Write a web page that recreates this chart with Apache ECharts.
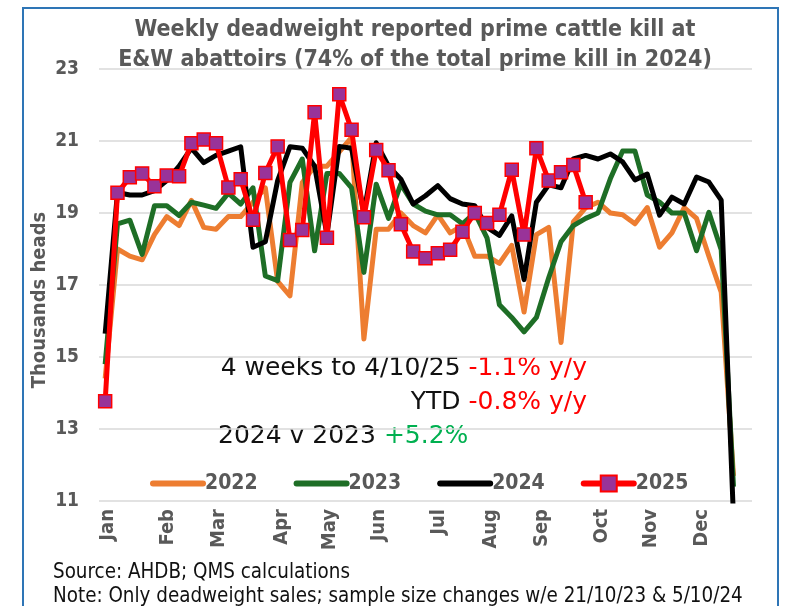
<!DOCTYPE html>
<html>
<head>
<meta charset="utf-8">
<script src="https://cdn.jsdelivr.net/npm/echarts@6/dist/echarts.min.js"></script>
<style>
  html, body { margin: 0; padding: 0; background: #fff; }
  #chart { width: 787px; height: 606px; }
</style>
</head>
<body>
<div id="chart"></div>
<script>
const weeks = [1, 2, 3, 4, 5, 6, 7, 8, 9, 10, 11, 12, 13, 14, 15, 16, 17, 18, 19, 20,
  21, 22, 23, 24, 25, 26, 27, 28, 29, 30, 31, 32, 33, 34, 35, 36, 37, 38, 39, 40,
  41, 42, 43, 44, 45, 46, 47, 48, 49, 50, 51, 52, 53];
const monthLabels = ["Jan", "Feb", "Mar", "Apr", "May", "Jun", "Jul", "Aug", "Sep", "Oct", "Nov", "Dec"];
// where each month label sits, in weeks from the first week
const monthPositions = [0.2, 5.1, 9.2, 14.3, 18.2, 22.2, 27.1, 31.3, 35.4, 40.3, 44.3, 48.4];

const kill2022 = [14.4, 18.0, 17.8, 17.7, 18.4, 18.9, 18.65, 19.35, 18.6, 18.55,
  18.9, 18.9, 19.3, 19.7, 17.1, 16.7, 19.85, 20.3, 20.3, 20.7,
  21.1, 15.5, 18.55, 18.55, 19.0, 18.65, 18.45, 18.95, 18.45, 18.65,
  17.8, 17.8, 17.6, 18.1, 16.25, 18.4, 18.6, 15.4, 18.75, 19.15,
  19.3, 19.0, 18.95, 18.7, 19.15, 18.05, 18.45, 19.15, 18.85, 17.8,
  16.8, 11.7];
const kill2023 = [14.8, 18.7, 18.8, 17.85, 19.2, 19.2, 18.93, 19.3, 19.22, 19.13,
  19.55, 19.25, 19.7, 17.25, 17.12, 19.85, 20.5, 17.95, 20.1, 20.1,
  19.7, 17.35, 19.8, 18.85, 19.8, 19.25, 19.05, 18.95, 18.95, 18.7,
  19.0, 18.3, 16.45, 16.1, 15.7, 16.1, 17.2, 18.2, 18.65, 18.85,
  19.0, 19.95, 20.72, 20.72, 19.5, 19.3, 19.0, 19.0, 17.95, 19.02,
  17.98, 11.4];
const kill2024 = [15.65, 19.57, 19.5, 19.5, 19.62, 19.9, 20.3, 20.8, 20.4, 20.6,
  20.72, 20.84, 18.05, 18.2, 19.9, 20.84, 20.8, 20.3, 18.4, 20.85,
  20.8, 19.0, 20.95, 20.3, 19.94, 19.25, 19.48, 19.76, 19.4, 19.25,
  19.2, 18.6, 18.38, 18.92, 17.15, 19.3, 19.78, 19.7, 20.5, 20.6,
  20.5, 20.64, 20.42, 19.92, 20.08, 18.94, 19.44, 19.25, 20.0, 19.86,
  19.36, 10.5];
const kill2025 = [13.77, 19.56, 19.99, 20.1, 19.74, 20.04, 20.02, 20.94, 21.04, 20.94,
  19.71, 19.94, 18.81, 20.11, 20.85, 18.25, 18.53, 21.8, 18.31, 22.3,
  21.31, 18.88, 20.75, 20.19, 18.69, 17.93, 17.74, 17.88, 17.98, 18.48,
  19.0, 18.72, 18.95, 20.2, 18.4, 20.8, 19.9, 20.13, 20.33, 19.3];

const grey = "#595959";
const narrow = "'Liberation Sans Narrow', 'DejaVu Sans Condensed', sans-serif";
const plain = "'DejaVu Sans', 'Open Sans', sans-serif";

const chart = echarts.init(document.getElementById("chart"));

function lineSeries(name, data, color, z) {
  return {
    name, type: "line", data, z,
    symbol: "none",
    lineStyle: { color, width: 5, join: "round" },
    itemStyle: { color }
  };
}

const richText = (color) => ({
  a: { fontFamily: plain, fontSize: 25, fill: "#111" },
  b: { fontFamily: plain, fontSize: 25, fill: color }
});

chart.setOption({
  animation: false,
  title: {
    text: "Weekly deadweight reported prime cattle kill at\nE&W abattoirs (74% of the total prime kill in 2024)",
    left: 410, top: 10, textAlign: "center",
    textStyle: { fontFamily: narrow, fontSize: 23, fontWeight: "bold", color: grey, lineHeight: 30 }
  },
  grid: { left: 99, right: 35, top: 69, bottom: 105 },
  legend: {
    top: 468, left: 145,
    itemWidth: 50, itemHeight: 20, itemGap: 36,
    lineStyle: { width: 6, cap: "round" },
    textStyle: { fontFamily: narrow, fontSize: 21, fontWeight: "bold", color: grey, padding: [0, 0, 0, -3] },
    data: [
      { name: "2022", itemStyle: { opacity: 0 } },
      { name: "2023", itemStyle: { opacity: 0 } },
      { name: "2024", itemStyle: { opacity: 0 } },
      { name: "2025" }
    ]
  },
  xAxis: [
    {
      type: "category",
      data: weeks,
      boundaryGap: true,
      axisLine: { show: false },
      axisTick: { show: false },
      axisLabel: { show: false }
    },
    {
      type: "value",
      position: "bottom",
      min: -0.5, max: 52.5,
      axisLine: { show: false },
      axisTick: { show: false },
      splitLine: { show: false },
      axisLabel: {
        customValues: monthPositions,
        rotate: 90, margin: 8,
        fontFamily: narrow, fontSize: 20, fontWeight: "bold", color: grey,
        formatter: (value) => {
          const m = monthPositions.indexOf(value);
          return m >= 0 ? monthLabels[m] : "";
        }
      }
    }
  ],
  yAxis: {
    type: "value",
    min: 11, max: 23, interval: 2,
    axisLine: { show: false },
    axisTick: { show: false },
    axisLabel: { fontFamily: narrow, fontSize: 19, fontWeight: "bold", color: grey, margin: 20 },
    splitLine: { lineStyle: { color: "#d9d9d9", width: 1.5 } }
  },
  graphic: [
    {
      type: "rect", silent: true, z: 100,
      shape: { x: 23, y: 8, width: 755, height: 620 },
      style: { fill: "none", stroke: "#2e75b6", lineWidth: 2 }
    },
    {
      type: "text", x: 40, y: 300, rotation: Math.PI / 2,
      style: { text: "Thousands heads", font: "bold 20px " + narrow, fill: grey, align: "center", verticalAlign: "middle" }
    },
    {
      type: "text", x: 587, y: 368,
      style: { text: "{a|4 weeks to 4/10/25 }{b|-1.1% y/y}", align: "right", verticalAlign: "middle", rich: richText("#ff0000") }
    },
    {
      type: "text", x: 587, y: 402,
      style: { text: "{a|YTD }{b|-0.8% y/y}", align: "right", verticalAlign: "middle", rich: richText("#ff0000") }
    },
    {
      type: "text", x: 218, y: 436,
      style: { text: "{a|2024 v 2023 }{b|+5.2%}", align: "left", verticalAlign: "middle", rich: richText("#00b050") }
    },
    {
      type: "text", x: 53, y: 573,
      style: { text: "Source: AHDB; QMS calculations", font: "20.4px " + narrow, fill: "#111", verticalAlign: "middle" }
    },
    {
      type: "text", x: 53, y: 597,
      style: { text: "Note: Only deadweight sales; sample size changes w/e 21/10/23 & 5/10/24", font: "20.4px " + narrow, fill: "#111", verticalAlign: "middle" }
    }
  ],
  series: [
    lineSeries("2022", kill2022, "#ed7d31", 2),
    lineSeries("2023", kill2023, "#1e6e26", 3),
    lineSeries("2024", kill2024, "#000000", 4),
    {
      name: "2025", type: "line", data: kill2025, z: 5,
      symbol: "rect", symbolSize: 13, showAllSymbol: true,
      lineStyle: { color: "#ff0000", width: 5 },
      itemStyle: { color: "#993399", borderColor: "#ff0000", borderWidth: 1.5 }
    }
  ]
});
</script>
</body>
</html>
